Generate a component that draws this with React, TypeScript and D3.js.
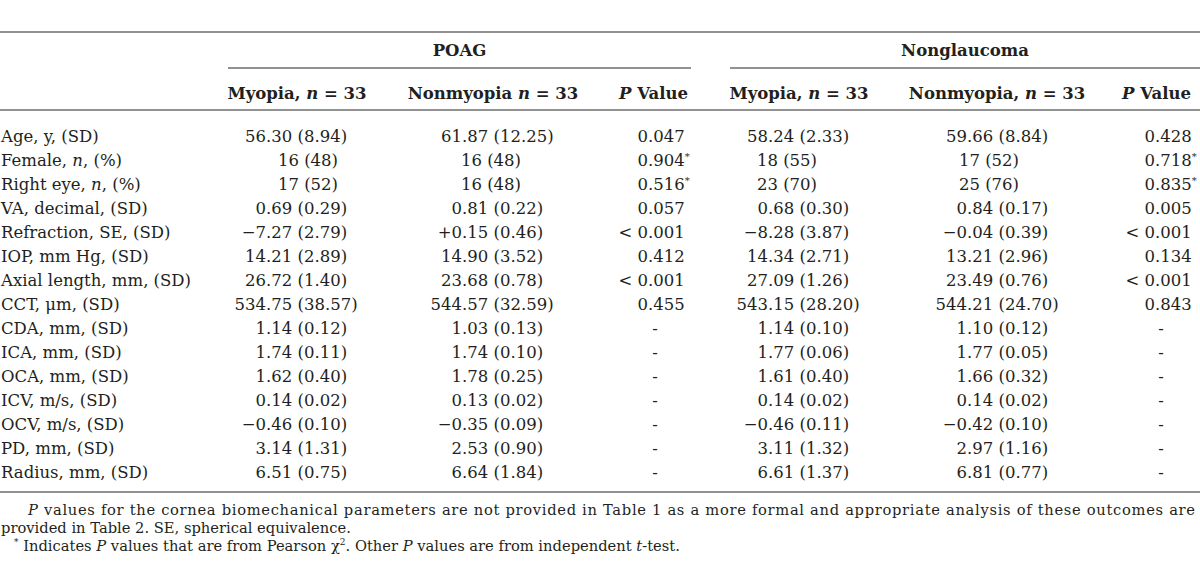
import React from "react";
import * as d3 from "d3";

// ---- data ----
const variables = [
  "Age, y, (SD)",
  "Female, _n_, (%)",
  "Right eye, _n_, (%)",
  "VA, decimal, (SD)",
  "Refraction, SE, (SD)",
  "IOP, mm Hg, (SD)",
  "Axial length, mm, (SD)",
  "CCT, μm, (SD)",
  "CDA, mm, (SD)",
  "ICA, mm, (SD)",
  "OCA, mm, (SD)",
  "ICV, m/s, (SD)",
  "OCV, m/s, (SD)",
  "PD, mm, (SD)",
  "Radius, mm, (SD)",
];

const groups = ["POAG", "Nonglaucoma"];
const columnHeaders = ["Myopia, _n_ = 33", "Nonmyopia _n_ = 33", "_P_ Value", "Myopia, _n_ = 33", "Nonmyopia, _n_ = 33", "_P_ Value"];

const poagMyopia = ["56.30 (8.94)", "16 (48)", "17 (52)", "0.69 (0.29)", "−7.27 (2.79)", "14.21 (2.89)", "26.72 (1.40)", "534.75 (38.57)", "1.14 (0.12)", "1.74 (0.11)", "1.62 (0.40)", "0.14 (0.02)", "−0.46 (0.10)", "3.14 (1.31)", "6.51 (0.75)"];
const poagNonmyopia = ["61.87 (12.25)", "16 (48)", "16 (48)", "0.81 (0.22)", "+0.15 (0.46)", "14.90 (3.52)", "23.68 (0.78)", "544.57 (32.59)", "1.03 (0.13)", "1.74 (0.10)", "1.78 (0.25)", "0.13 (0.02)", "−0.35 (0.09)", "2.53 (0.90)", "6.64 (1.84)"];
const poagP = ["0.047", "0.904*", "0.516*", "0.057", "< 0.001", "0.412", "< 0.001", "0.455", "-", "-", "-", "-", "-", "-", "-"];
const nongMyopia = ["58.24 (2.33)", "18 (55)", "23 (70)", "0.68 (0.30)", "−8.28 (3.87)", "14.34 (2.71)", "27.09 (1.26)", "543.15 (28.20)", "1.14 (0.10)", "1.77 (0.06)", "1.61 (0.40)", "0.14 (0.02)", "−0.46 (0.11)", "3.11 (1.32)", "6.61 (1.37)"];
const nongNonmyopia = ["59.66 (8.84)", "17 (52)", "25 (76)", "0.84 (0.17)", "−0.04 (0.39)", "13.21 (2.96)", "23.49 (0.76)", "544.21 (24.70)", "1.10 (0.12)", "1.77 (0.05)", "1.66 (0.32)", "0.14 (0.02)", "−0.42 (0.10)", "2.97 (1.16)", "6.81 (0.77)"];
const nongP = ["0.428", "0.718*", "0.835*", "0.005", "< 0.001", "0.134", "< 0.001", "0.843", "-", "-", "-", "-", "-", "-", "-"];

const footnote1 = "_P_ values for the cornea biomechanical parameters are not provided in Table 1 as a more formal and appropriate analysis of these outcomes are";
const footnote2 = "provided in Table 2. SE, spherical equivalence.";
const footnote3 = "^*^ Indicates _P_ values that are from Pearson χ^2^. Other _P_ values are from independent _t_-test.";

// ---- layout ----
const W = 1200;
const H = 568;
const FONT = "'DejaVu Serif', serif";
const INK = "#231f20";
const RULE = "#6e6e6e";

const columns = [
  { data: poagMyopia, dec: 266, mid: 308 },
  { data: poagNonmyopia, dec: 462, mid: 491 },
  { data: poagP, dec: 648, mid: 655 },
  { data: nongMyopia, dec: 768, mid: 787 },
  { data: nongNonmyopia, dec: 967, mid: 989 },
  { data: nongP, dec: 1155, mid: 1161 },
];
const headerPos = [
  { x: 297, anchor: "middle" },
  { x: 493, anchor: "middle" },
  { x: 688, anchor: "end" },
  { x: 799, anchor: "middle" },
  { x: 997, anchor: "middle" },
  { x: 1191, anchor: "end" },
];
const groupSpans = [
  [228, 691],
  [730, 1200],
];

function rich(s: string, supSize = 9.5) {
  // _x_ => italic, ^x^ => superscript
  const out: any[] = [];
  const re = /(_[^_]+_|\^[^^]+\^)/g;
  const parts = s.split(re).filter((p) => p !== "");
  let pending = 0;
  parts.forEach((p, i) => {
    if (p.startsWith("^") && p.endsWith("^")) {
      out.push(
        <tspan key={i} fontSize={supSize} dy={-6 + pending}>
          {p.slice(1, -1)}
        </tspan>
      );
      pending = 6;
      return;
    }
    const italic = p.startsWith("_") && p.endsWith("_");
    const txt = italic ? p.slice(1, -1) : p;
    out.push(
      <tspan key={i} fontStyle={italic ? "italic" : undefined} dy={pending || undefined}>
        {txt}
      </tspan>
    );
    pending = 0;
  });
  return out;
}

function Cell({ text, dec, mid, y }: { text: string; dec: number; mid: number; y: number }) {
  if (text === "-") {
    return (
      <text x={mid} y={y} textAnchor="middle">
        -
      </text>
    );
  }
  const star = text.endsWith("*");
  const t = star ? text.slice(0, -1) : text;
  const i = t.indexOf(".");
  if (i < 0) {
    return (
      <text x={mid} y={y} textAnchor="middle">
        {t}
      </text>
    );
  }
  return (
    <g>
      <text x={dec} y={y} textAnchor="end" style={{ whiteSpace: "pre" }}>
        {t.slice(0, i)}
      </text>
      <text x={dec} y={y}>
        {t.slice(i)}
        {star && (
          <tspan fontSize={10} dy={-6}>
            *
          </tspan>
        )}
      </text>
    </g>
  );
}

export default function App() {
  const y = d3
    .scalePoint<number>()
    .domain(d3.range(variables.length))
    .range([142, 478]);

  return (
    <div style={{ position: "absolute", left: 0, top: 0, width: W, height: H, background: "#fff" }}>
      <svg width={W} height={H} viewBox={`0 0 ${W} ${H}`} style={{ display: "block" }} fontFamily={FONT} fill={INK}>
        <rect x={0} y={0} width={W} height={H} fill="#fff" />
        {/* rules */}
        <line x1={0} x2={W} y1={32} y2={32} stroke={RULE} strokeWidth={1.6} />
        {groupSpans.map(([a, b], i) => (
          <line key={i} x1={a} x2={b} y1={68} y2={68} stroke={RULE} strokeWidth={1.6} />
        ))}
        <line x1={0} x2={W} y1={110} y2={110} stroke={RULE} strokeWidth={1.6} />
        <line x1={0} x2={W} y1={492} y2={492} stroke={RULE} strokeWidth={1.6} />

        {/* group headers */}
        {groups.map((g, i) => (
          <text
            key={g}
            x={(groupSpans[i][0] + groupSpans[i][1]) / 2}
            y={56}
            textAnchor="middle"
            fontWeight="bold"
            fontSize={16.5}
          >
            {g}
          </text>
        ))}

        {/* column headers */}
        {columnHeaders.map((h, i) => (
          <text key={i} x={headerPos[i].x} y={99} textAnchor={headerPos[i].anchor as any} fontWeight="bold" fontSize={16.5}>
            {rich(h)}
          </text>
        ))}

        {/* body */}
        <g fontSize={16.5}>
          {variables.map((v, r) => (
            <g key={r}>
              <text x={1} y={y(r)}>
                {rich(v)}
              </text>
              {columns.map((c, ci) => (
                <Cell key={ci} text={c.data[r]} dec={c.dec} mid={c.mid} y={y(r)!} />
              ))}
            </g>
          ))}
        </g>

        {/* footnotes */}
        <g fontSize={14.7}>
          <text x={28} y={515} textLength={1167} lengthAdjust="spacing">
            {rich(footnote1)}
          </text>
          <text x={1} y={533}>
            {rich(footnote2)}
          </text>
          <text x={14} y={551} style={{ whiteSpace: "pre" }}>
            {rich(footnote3, 9)}
          </text>
        </g>
      </svg>
    </div>
  );
}
